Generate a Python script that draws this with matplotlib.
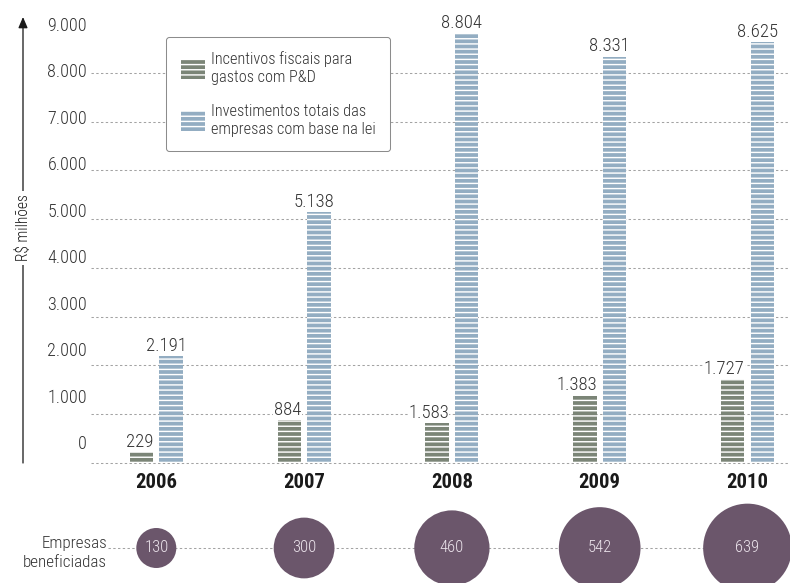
import matplotlib
matplotlib.use("Agg")
import matplotlib.pyplot as plt
import numpy as np

# data
years = ["2006", "2007", "2008", "2009", "2010"]
incentivos = [229, 884, 826, 1383, 1727]  # bar heights as drawn (2008 bar is drawn short)
incentivos_labels = ["229", "884", "1.583", "1.383", "1.727"]
investimentos = [2191, 5138, 8804, 8331, 8625]
investimentos_labels = ["2.191", "5.138", "8.804", "8.331", "8.625"]
empresas = [130, 300, 460, 542, 639]
ytick_labels = ["0", "1.000", "2.000", "3.000", "4.000",
                "5.000", "6.000", "7.000", "8.000", "9.000"]
legend_labels = ["Incentivos fiscais para\ngastos com P&D",
                 "Investimentos totais das\nempresas com base na lei"]

DPI = 93
W, H = 790, 583
GREEN = "#7b8577"
BLUE = "#93adc2"
PURPLE = "#6b566b"
GRID = "#a3a3a3"
TEXT = "#333333"
DOTS = (0, (2.3, 2.3))

plt.rcParams["font.family"] = ["Roboto Condensed", "DejaVu Sans"]
plt.rcParams["font.weight"] = "light"
plt.rcParams["hatch.linewidth"] = 1.1


def fx(px):
    return px / W


def fy(py):
    return 1 - py / H


fig = plt.figure(figsize=(W / DPI, H / DPI), dpi=DPI)

# main bar axes
ax = fig.add_axes([fx(91), fy(470), fx(790) - fx(91), (470 - 10) / H])
x = np.arange(len(years))
bw = 0.159
off = 0.1
green = ax.bar(x - off, incentivos, bw, color=GREEN, edgecolor="white",
               linewidth=0, hatch="---", zorder=3)
blue = ax.bar(x + off, investimentos, bw, color=BLUE, edgecolor="white",
              linewidth=0, hatch="---", zorder=3)

ax.set_xlim(-0.4418, 4.2876)
ax.set_ylim(-143.5, 9286.6)

ax.set_yticks(np.arange(0, 9001, 1000), minor=True)
ax.grid(axis="y", which="minor", color=GRID, linestyle=DOTS, linewidth=0.8)
ax.set_axisbelow(True)
# the labels in the source drift a little from their grid lines
ax.set_yticks(np.linspace(430, 9000, 10), ytick_labels)
ax.tick_params(axis="y", which="both", length=0, pad=3, labelsize=14,
               labelcolor=TEXT)
ax.set_xticks(x, years, fontweight="bold")
ax.tick_params(axis="x", length=0, pad=2, labelsize=16, labelcolor="#1a1a1a")
for s in ax.spines.values():
    s.set_visible(False)

for xi, h, lab in zip(x, incentivos, incentivos_labels):
    ax.annotate(lab, (xi - off + bw / 2, h), xytext=(0, 4),
                textcoords="offset points", ha="right", va="baseline",
                fontsize=14.5, color=TEXT, zorder=4,
                bbox=dict(fc="white", ec="none", pad=0.5))
for xi, h, lab in zip(x, investimentos, investimentos_labels):
    ax.annotate(lab, (xi + off + bw / 2, h), xytext=(3, 4),
                textcoords="offset points", ha="right", va="baseline",
                fontsize=14.5, color=TEXT, zorder=4,
                bbox=dict(fc="white", ec="none", pad=0.5))

leg = ax.legend([green, blue], legend_labels, loc="upper left",
                bbox_to_anchor=(fx(166), fy(36.7)),
                bbox_transform=fig.transFigure, borderaxespad=0,
                borderpad=0.9, handlelength=1.49, handleheight=1.5,
                handletextpad=0.37, labelspacing=1.2, fontsize=12.6,
                frameon=True, fancybox=True, edgecolor="#8c8c8c",
                framealpha=1, labelcolor=TEXT)
leg.get_frame().set_linewidth(0.8)

# y axis arrow with its title
ax.annotate("", xy=(23, H - 17), xytext=(23, H - 463),
            xycoords="figure pixels", textcoords="figure pixels",
            arrowprops=dict(arrowstyle="-|>,head_length=0.7,head_width=0.3",
                            color="#1a1a1a", lw=1.0, shrinkA=0, shrinkB=0),
            annotation_clip=False)
fig.text(fx(22.7), fy(228), "R$ milhões", rotation=90, ha="center",
         va="center", fontsize=12, color="#1a1a1a",
         bbox=dict(fc="white", ec="none", pad=3))

# bottom strip: companies benefited
ax2 = fig.add_axes([0, 0, 1, 70 / H])
ax2.set_xlim((0 - 156.3) / 147.8, (790 - 156.3) / 147.8)
ax2.set_ylim(-1, 1)
ax2.axis("off")
ax2.axhline(0, xmin=fx(108), xmax=1, color=GRID, linestyle=DOTS,
            linewidth=0.8, zorder=1)
ax2.scatter(x, np.zeros(len(x)), s=7.38 * np.array(empresas), color=PURPLE,
            linewidths=0, zorder=2, clip_on=False)
for xi, n in zip(x, empresas):
    ax2.text(xi, 0, str(n), ha="center", va="center", color="#ece4ec",
             fontsize=12.8, zorder=3)
ax2.text(fx(107), (583 - 553) / 70, "Empresas\nbeneficiadas",
         transform=ax2.transAxes, ha="right", va="center", fontsize=13.2,
         linespacing=1.3, color=TEXT)

fig.savefig("out.png", dpi=DPI)
